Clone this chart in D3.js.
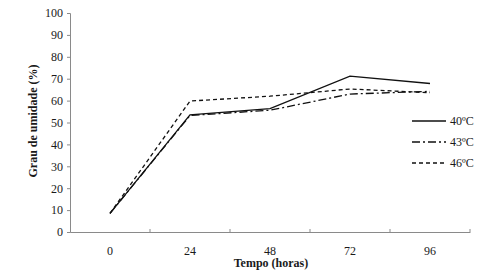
<!DOCTYPE html>
<html><head><meta charset="utf-8">
<script src="https://cdn.jsdelivr.net/npm/d3@7"></script>
<style>body{margin:0;background:#fff}svg{display:block}text{font-family:"Liberation Serif","Times New Roman",serif;fill:#1a1a1a}</style>
</head><body><svg id="c" width="500" height="272"></svg>
<script>
const categories = ["0","24","48","72","96"];
const yTicks = [0,10,20,30,40,50,60,70,80,90,100];
const seriesNames = ["40ºC","43ºC","46ºC"];
const s40 = [8.5,53.5,56.3,71.2,67.8];
const s43 = [8.5,53.2,55.6,63.0,64.2];
const s46 = [8.5,59.8,62.0,65.3,63.6];
const dashes = [null,"8,3,2,3","4,3"];
const series = [s40,s43,s46];

const svg = d3.select("#c");
const x = d3.scaleBand().domain(categories).range([70,470]);
const y = d3.scaleLinear().domain([0,100]).range([232,13]);

// y axis
const ya = svg.append("g").attr("transform","translate(70,0)")
  .call(d3.axisLeft(y).tickValues(yTicks).tickSize(3).tickPadding(4));
ya.selectAll("text").style("font-size","12px").attr("font-family","Liberation Serif");
ya.selectAll("line,path").attr("stroke","#8a8a8a");

// x axis
const xa = svg.append("g").attr("transform","translate(0,232)")
  .call(d3.axisBottom(x).tickSize(0).tickPadding(14));
xa.selectAll("text").style("font-size","12px");
xa.select("path").attr("stroke","#8a8a8a");
// band-boundary ticks
const bounds = categories.map(c => x(c) + x.bandwidth());
xa.selectAll("line.b").data(bounds).join("line").attr("class","b")
  .attr("x1",d=>d).attr("x2",d=>d).attr("y1",-3).attr("y2",0).attr("stroke","#8a8a8a");

// lines
const line = d3.line().x((d,i)=>x(categories[i])+x.bandwidth()/2).y(d=>y(d));
series.forEach((s,k)=>{
  svg.append("path").datum(s).attr("d",line).attr("fill","none")
    .attr("stroke","#111").attr("stroke-width",1.3)
    .attr("stroke-dasharray",dashes[k]);
});

// legend
const lg = svg.append("g");
seriesNames.forEach((n,k)=>{
  const yy = 121 + k*21;
  lg.append("line").attr("x1",412).attr("x2",446).attr("y1",yy).attr("y2",yy)
    .attr("stroke","#111").attr("stroke-width",1.3).attr("stroke-dasharray",dashes[k]);
  lg.append("text").attr("x",450).attr("y",yy+4).style("font-size","12px").text(n);
});

// axis titles
svg.append("text").attr("x",271).attr("y",267).attr("text-anchor","middle")
  .style("font-size","12px").style("font-weight","bold").text("Tempo (horas)");
svg.append("text").attr("transform","translate(37,121) rotate(-90)").attr("text-anchor","middle")
  .style("font-size","12px").style("font-weight","bold").text("Grau de umidade (%)");
</script></body></html>
